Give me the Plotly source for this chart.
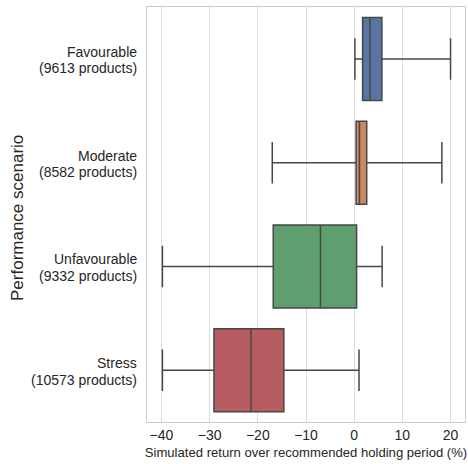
import plotly.graph_objects as go

scenarios = ["Favourable", "Moderate", "Unfavourable", "Stress"]
counts = [9613, 8582, 9332, 10573]
lower_whisker = [0.15, -17.0, -39.8, -39.8]
q1_vals = [1.75, 0.4, -16.8, -29.1]
median_vals = [3.3, 1.1, -7.0, -21.4]
q3_vals = [5.75, 2.6, 0.5, -14.6]
upper_whisker = [20.0, 18.2, 5.8, 1.0]
colors = ["#5975a4", "#cc8963", "#5f9e6e", "#b55d60"]
x_ticks = [-40, -30, -20, -10, 0, 10, 20]

fig = go.Figure()
for i, s in enumerate(scenarios):
    fig.add_trace(go.Box(
        y=[s], q1=[q1_vals[i]], median=[median_vals[i]], q3=[q3_vals[i]],
        lowerfence=[lower_whisker[i]], upperfence=[upper_whisker[i]],
        orientation="h", width=0.8, whiskerwidth=0.5,
        fillcolor=colors[i], line=dict(color="#474747", width=1.5),
        boxpoints=False, showlegend=False, hoverinfo="skip",
    ))

txt = "#262626"
# two-line category labels (tight line spacing as in the reference)
for s, c in zip(scenarios, counts):
    fig.add_annotation(x=0, xref="paper", y=s, yref="y", text=s, showarrow=False,
                       xanchor="right", yanchor="middle", xshift=-8, yshift=7,
                       font=dict(size=14, color=txt))
    fig.add_annotation(x=0, xref="paper", y=s, yref="y", text=f"({c} products)", showarrow=False,
                       xanchor="right", yanchor="middle", xshift=-8, yshift=-9.5,
                       font=dict(size=14, color=txt))
fig.add_annotation(x=0, xref="paper", y=0.5, yref="paper", text="Performance scenario",
                   showarrow=False, textangle=-90, xanchor="center", yanchor="middle",
                   xshift=-130, yshift=-3.5, font=dict(size=17, color=txt))

font = "Liberation Sans, Arial, sans-serif"
fig.update_layout(
    width=468, height=464,
    margin=dict(l=147, r=3, t=7, b=42),
    paper_bgcolor="white", plot_bgcolor="white",
    font=dict(family=font, color=txt, size=14),
    xaxis=dict(
        range=[-43, 23], tickvals=x_ticks, showgrid=True, gridcolor="#dcdcdc", gridwidth=1,
        zeroline=False, showline=True, linecolor="#cccccc", linewidth=1, mirror=True,
        ticks="", tickfont=dict(size=14, color=txt), automargin=False,
        title=dict(text="Simulated return over recommended holding period (%)",
                   font=dict(size=13.1, color=txt), standoff=6),
    ),
    yaxis=dict(
        type="category", categoryorder="array", categoryarray=scenarios,
        range=[3.5, -0.5], showgrid=False, zeroline=False, automargin=False,
        showline=True, linecolor="#cccccc", linewidth=1, mirror=True, ticks="",
        showticklabels=False,
    ),
)
fig.write_html("out.html", config={"displayModeBar": False},
               post_script="document.body.style.margin='0px';")
